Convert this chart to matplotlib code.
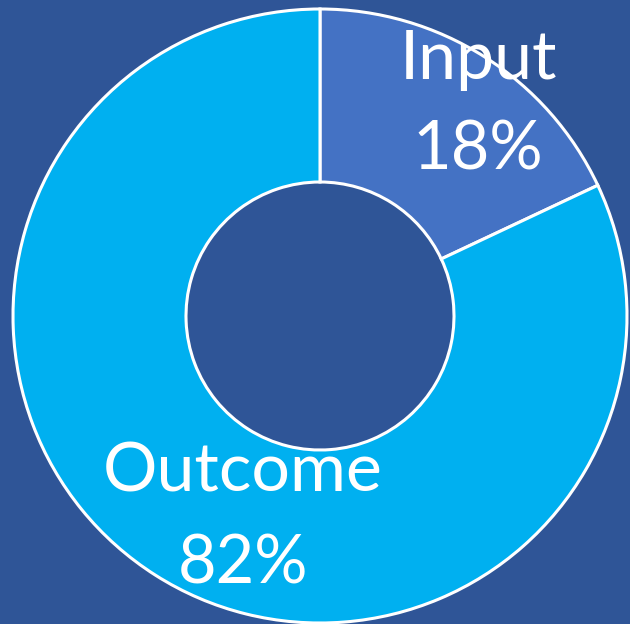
import matplotlib.pyplot as plt

# donut chart data
categories = ["Input", "Outcome"]
shares = [18, 82]
pct_labels = ["18%", "82%"]

bg_color = "#2F5597"
slice_colors = ["#4472C4", "#00B0F0"]

fig = plt.figure(figsize=(6.3, 6.24), dpi=100, facecolor=bg_color)
ax = fig.add_axes([0, 0, 1, 1])
ax.set_facecolor(bg_color)

outer_r = 307
inner_r = 134
ax.pie(shares, radius=outer_r, startangle=90, counterclock=False,
       colors=slice_colors, center=(0, 0), frame=True,
       wedgeprops=dict(width=outer_r - inner_r, edgecolor="white", linewidth=2.2))

# one data unit == one pixel, ring centered at (0, 0)
ax.set_xlim(-320, 310)
ax.set_ylim(-308, 316)
ax.set_aspect("equal")
ax.axis("off")

label_pos = [(158, 256, 165), (-77, -157, -249)]
for name, pct, (x, y1, y2) in zip(categories, pct_labels, label_pos):
    ax.text(x, y1, name, color="white", fontsize=49, family="Lato",
            ha="center", va="center")
    ax.text(x, y2, pct, color="white", fontsize=48, family="Lato",
            ha="center", va="center")

fig.savefig("out.png", dpi=100, facecolor=bg_color)
